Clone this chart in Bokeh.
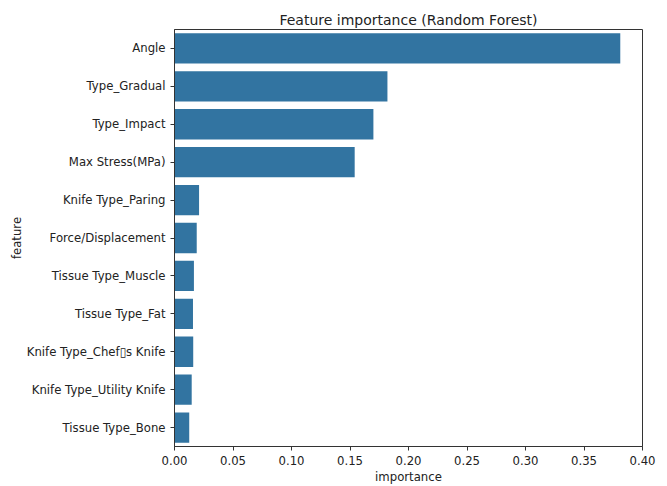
from bokeh.plotting import figure
from bokeh.models import FactorRange, Range1d, FixedTicker, NumeralTickFormatter, ColumnDataSource
from bokeh.embed import file_html
from bokeh.resources import INLINE

features = ["Angle", "Type_Gradual", "Type_Impact", "Max Stress(MPa)", "Knife Type_Paring",
            "Force/Displacement", "Tissue Type_Muscle", "Tissue Type_Fat",
            "Knife Type_Chef\u25afs Knife", "Knife Type_Utility Knife", "Tissue Type_Bone"]
importance = [0.381, 0.182, 0.170, 0.154, 0.021, 0.019, 0.0166, 0.0158, 0.016, 0.0147, 0.0126]
x_ticks = [0.0, 0.05, 0.10, 0.15, 0.20, 0.25, 0.30, 0.35, 0.40]

src = ColumnDataSource(dict(feature=features, importance=importance))

p = figure(width=667, height=486, output_backend="svg", toolbar_location=None,
           y_range=FactorRange(*list(reversed(features))), x_range=Range1d(0, 0.40),
           title="Feature importance (Random Forest)",
           min_border_left=174, min_border_right=25, min_border_top=29, min_border_bottom=30)

p.hbar(y="feature", right="importance", left=0, height=0.8, source=src,
       fill_color="#3274a1", line_color=None)

p.title.align = "center"
p.title.text_font = "DejaVu Sans"
p.title.text_font_size = "14px"
p.title.text_font_style = "normal"
p.title.text_color = "#222222"
p.title.offset = 0
p.title.standoff = 4

p.xgrid.visible = False
p.ygrid.visible = False
p.outline_line_color = "#333333"
p.outline_line_width = 1

for ax in (p.xaxis, p.yaxis):
    ax.major_label_text_font = "DejaVu Sans"
    ax.major_label_text_font_size = "11.7px"
    ax.major_label_text_color = "#222222"
    ax.axis_label_text_font = "DejaVu Sans"
    ax.axis_label_text_font_size = "11.7px"
    ax.axis_label_text_font_style = "normal"
    ax.axis_label_text_color = "#222222"
    ax.minor_tick_line_color = None
    ax.major_tick_out = 4
    ax.major_tick_in = 0
    ax.axis_line_color = "#333333"
    ax.major_tick_line_color = "#333333"

p.xaxis.axis_label = "importance"
p.yaxis.axis_label = "feature"
p.xaxis.ticker = FixedTicker(ticks=x_ticks)
p.xaxis.formatter = NumeralTickFormatter(format="0.00")
p.xaxis.axis_label_standoff = 2
p.xaxis.major_label_standoff = 5
p.yaxis.axis_label_standoff = 0

open("out.html", "w").write(file_html(p, INLINE))
